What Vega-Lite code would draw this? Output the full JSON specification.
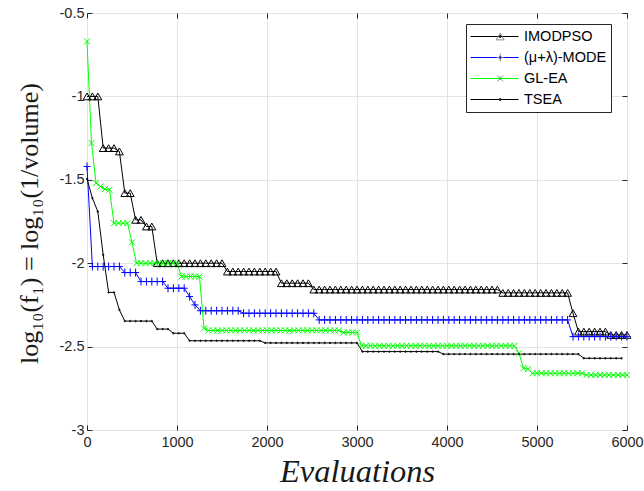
{
"$schema": "https://vega.github.io/schema/vega-lite/v6.json",
"width": 540, "height": 417,
"autosize": {"type": "none"},
"padding": {"left": 87, "top": 13, "right": 17, "bottom": 61},
"background": "white",
"config": {
  "view": {"stroke": "#262626", "strokeWidth": 1},
  "axis": {"labelFont": "Liberation Sans", "labelFontSize": 14.5, "labelColor": "#262626", "tickColor": "#262626", "domain": false, "gridColor": "#e3e3e3", "gridWidth": 1, "labelFlush": false}
},
"data": {"values": [
{"series":"IMODPSO","x":0,"y":-1},{"series":"IMODPSO","x":60,"y":-1},{"series":"IMODPSO","x":120,"y":-1},{"series":"IMODPSO","x":180,"y":-1.31},{"series":"IMODPSO","x":240,"y":-1.31},{"series":"IMODPSO","x":300,"y":-1.31},{"series":"IMODPSO","x":360,"y":-1.33},{"series":"IMODPSO","x":420,"y":-1.58},{"series":"IMODPSO","x":480,"y":-1.58},{"series":"IMODPSO","x":540,"y":-1.74},{"series":"IMODPSO","x":600,"y":-1.74},{"series":"IMODPSO","x":660,"y":-1.78},{"series":"IMODPSO","x":720,"y":-1.78},
{"series":"IMODPSO","x":780,"y":-2},{"series":"IMODPSO","x":840,"y":-2},{"series":"IMODPSO","x":900,"y":-2},{"series":"IMODPSO","x":960,"y":-2},{"series":"IMODPSO","x":1020,"y":-2},{"series":"IMODPSO","x":1080,"y":-2},{"series":"IMODPSO","x":1140,"y":-2},{"series":"IMODPSO","x":1200,"y":-2},{"series":"IMODPSO","x":1260,"y":-2},{"series":"IMODPSO","x":1320,"y":-2},{"series":"IMODPSO","x":1380,"y":-2},{"series":"IMODPSO","x":1440,"y":-2},{"series":"IMODPSO","x":1500,"y":-2},
{"series":"IMODPSO","x":1560,"y":-2.05},{"series":"IMODPSO","x":1620,"y":-2.05},{"series":"IMODPSO","x":1680,"y":-2.05},{"series":"IMODPSO","x":1740,"y":-2.05},{"series":"IMODPSO","x":1800,"y":-2.05},{"series":"IMODPSO","x":1860,"y":-2.05},{"series":"IMODPSO","x":1920,"y":-2.05},{"series":"IMODPSO","x":1980,"y":-2.05},{"series":"IMODPSO","x":2040,"y":-2.05},{"series":"IMODPSO","x":2100,"y":-2.05},
{"series":"IMODPSO","x":2160,"y":-2.12},{"series":"IMODPSO","x":2220,"y":-2.12},{"series":"IMODPSO","x":2280,"y":-2.12},{"series":"IMODPSO","x":2340,"y":-2.12},{"series":"IMODPSO","x":2400,"y":-2.12},{"series":"IMODPSO","x":2460,"y":-2.12},
{"series":"IMODPSO","x":2520,"y":-2.158},{"series":"IMODPSO","x":2580,"y":-2.158},{"series":"IMODPSO","x":2640,"y":-2.158},{"series":"IMODPSO","x":2700,"y":-2.158},{"series":"IMODPSO","x":2760,"y":-2.158},{"series":"IMODPSO","x":2820,"y":-2.158},{"series":"IMODPSO","x":2880,"y":-2.158},{"series":"IMODPSO","x":2940,"y":-2.158},{"series":"IMODPSO","x":3000,"y":-2.158},{"series":"IMODPSO","x":3060,"y":-2.158},{"series":"IMODPSO","x":3120,"y":-2.158},{"series":"IMODPSO","x":3180,"y":-2.158},{"series":"IMODPSO","x":3240,"y":-2.158},{"series":"IMODPSO","x":3300,"y":-2.158},{"series":"IMODPSO","x":3360,"y":-2.158},{"series":"IMODPSO","x":3420,"y":-2.158},{"series":"IMODPSO","x":3480,"y":-2.158},{"series":"IMODPSO","x":3540,"y":-2.158},{"series":"IMODPSO","x":3600,"y":-2.158},{"series":"IMODPSO","x":3660,"y":-2.158},{"series":"IMODPSO","x":3720,"y":-2.158},{"series":"IMODPSO","x":3780,"y":-2.158},{"series":"IMODPSO","x":3840,"y":-2.158},{"series":"IMODPSO","x":3900,"y":-2.158},{"series":"IMODPSO","x":3960,"y":-2.158},{"series":"IMODPSO","x":4020,"y":-2.158},{"series":"IMODPSO","x":4080,"y":-2.158},{"series":"IMODPSO","x":4140,"y":-2.158},{"series":"IMODPSO","x":4200,"y":-2.158},{"series":"IMODPSO","x":4260,"y":-2.158},{"series":"IMODPSO","x":4320,"y":-2.158},{"series":"IMODPSO","x":4380,"y":-2.158},{"series":"IMODPSO","x":4440,"y":-2.158},{"series":"IMODPSO","x":4500,"y":-2.158},{"series":"IMODPSO","x":4560,"y":-2.158},
{"series":"IMODPSO","x":4620,"y":-2.178},{"series":"IMODPSO","x":4680,"y":-2.178},{"series":"IMODPSO","x":4740,"y":-2.178},{"series":"IMODPSO","x":4800,"y":-2.178},{"series":"IMODPSO","x":4860,"y":-2.178},{"series":"IMODPSO","x":4920,"y":-2.178},{"series":"IMODPSO","x":4980,"y":-2.178},{"series":"IMODPSO","x":5040,"y":-2.178},{"series":"IMODPSO","x":5100,"y":-2.178},{"series":"IMODPSO","x":5160,"y":-2.178},{"series":"IMODPSO","x":5220,"y":-2.178},{"series":"IMODPSO","x":5280,"y":-2.178},{"series":"IMODPSO","x":5340,"y":-2.178},
{"series":"IMODPSO","x":5400,"y":-2.3},
{"series":"IMODPSO","x":5460,"y":-2.41},{"series":"IMODPSO","x":5520,"y":-2.41},{"series":"IMODPSO","x":5580,"y":-2.41},{"series":"IMODPSO","x":5640,"y":-2.41},{"series":"IMODPSO","x":5700,"y":-2.41},{"series":"IMODPSO","x":5760,"y":-2.41},
{"series":"IMODPSO","x":5820,"y":-2.43},{"series":"IMODPSO","x":5880,"y":-2.43},{"series":"IMODPSO","x":5940,"y":-2.43},{"series":"IMODPSO","x":6000,"y":-2.43},

{"series":"(μ+λ)-MODE","x":0,"y":-1.42},
{"series":"(μ+λ)-MODE","x":60,"y":-2.02},{"series":"(μ+λ)-MODE","x":120,"y":-2.02},{"series":"(μ+λ)-MODE","x":180,"y":-2.02},{"series":"(μ+λ)-MODE","x":240,"y":-2.02},{"series":"(μ+λ)-MODE","x":300,"y":-2.02},{"series":"(μ+λ)-MODE","x":360,"y":-2.02},
{"series":"(μ+λ)-MODE","x":420,"y":-2.056},{"series":"(μ+λ)-MODE","x":480,"y":-2.056},{"series":"(μ+λ)-MODE","x":540,"y":-2.056},
{"series":"(μ+λ)-MODE","x":600,"y":-2.11},{"series":"(μ+λ)-MODE","x":660,"y":-2.11},{"series":"(μ+λ)-MODE","x":720,"y":-2.11},{"series":"(μ+λ)-MODE","x":780,"y":-2.11},{"series":"(μ+λ)-MODE","x":840,"y":-2.11},
{"series":"(μ+λ)-MODE","x":900,"y":-2.15},{"series":"(μ+λ)-MODE","x":960,"y":-2.15},{"series":"(μ+λ)-MODE","x":1020,"y":-2.15},{"series":"(μ+λ)-MODE","x":1080,"y":-2.15},
{"series":"(μ+λ)-MODE","x":1140,"y":-2.2},{"series":"(μ+λ)-MODE","x":1200,"y":-2.25},
{"series":"(μ+λ)-MODE","x":1260,"y":-2.285},{"series":"(μ+λ)-MODE","x":1320,"y":-2.285},{"series":"(μ+λ)-MODE","x":1380,"y":-2.285},{"series":"(μ+λ)-MODE","x":1440,"y":-2.285},{"series":"(μ+λ)-MODE","x":1500,"y":-2.285},{"series":"(μ+λ)-MODE","x":1560,"y":-2.285},{"series":"(μ+λ)-MODE","x":1620,"y":-2.285},{"series":"(μ+λ)-MODE","x":1680,"y":-2.285},
{"series":"(μ+λ)-MODE","x":1740,"y":-2.3},{"series":"(μ+λ)-MODE","x":1800,"y":-2.3},{"series":"(μ+λ)-MODE","x":1860,"y":-2.3},{"series":"(μ+λ)-MODE","x":1920,"y":-2.3},{"series":"(μ+λ)-MODE","x":1980,"y":-2.3},{"series":"(μ+λ)-MODE","x":2040,"y":-2.3},{"series":"(μ+λ)-MODE","x":2100,"y":-2.3},{"series":"(μ+λ)-MODE","x":2160,"y":-2.3},{"series":"(μ+λ)-MODE","x":2220,"y":-2.3},{"series":"(μ+λ)-MODE","x":2280,"y":-2.3},{"series":"(μ+λ)-MODE","x":2340,"y":-2.3},{"series":"(μ+λ)-MODE","x":2400,"y":-2.3},{"series":"(μ+λ)-MODE","x":2460,"y":-2.3},{"series":"(μ+λ)-MODE","x":2520,"y":-2.3},
{"series":"(μ+λ)-MODE","x":2580,"y":-2.34},{"series":"(μ+λ)-MODE","x":2640,"y":-2.34},{"series":"(μ+λ)-MODE","x":2700,"y":-2.34},{"series":"(μ+λ)-MODE","x":2760,"y":-2.34},{"series":"(μ+λ)-MODE","x":2820,"y":-2.34},{"series":"(μ+λ)-MODE","x":2880,"y":-2.34},{"series":"(μ+λ)-MODE","x":2940,"y":-2.34},{"series":"(μ+λ)-MODE","x":3000,"y":-2.34},{"series":"(μ+λ)-MODE","x":3060,"y":-2.34},{"series":"(μ+λ)-MODE","x":3120,"y":-2.34},{"series":"(μ+λ)-MODE","x":3180,"y":-2.34},{"series":"(μ+λ)-MODE","x":3240,"y":-2.34},{"series":"(μ+λ)-MODE","x":3300,"y":-2.34},{"series":"(μ+λ)-MODE","x":3360,"y":-2.34},{"series":"(μ+λ)-MODE","x":3420,"y":-2.34},{"series":"(μ+λ)-MODE","x":3480,"y":-2.34},{"series":"(μ+λ)-MODE","x":3540,"y":-2.34},{"series":"(μ+λ)-MODE","x":3600,"y":-2.34},{"series":"(μ+λ)-MODE","x":3660,"y":-2.34},{"series":"(μ+λ)-MODE","x":3720,"y":-2.34},{"series":"(μ+λ)-MODE","x":3780,"y":-2.34},{"series":"(μ+λ)-MODE","x":3840,"y":-2.34},{"series":"(μ+λ)-MODE","x":3900,"y":-2.34},{"series":"(μ+λ)-MODE","x":3960,"y":-2.34},{"series":"(μ+λ)-MODE","x":4020,"y":-2.34},{"series":"(μ+λ)-MODE","x":4080,"y":-2.34},{"series":"(μ+λ)-MODE","x":4140,"y":-2.34},{"series":"(μ+λ)-MODE","x":4200,"y":-2.34},{"series":"(μ+λ)-MODE","x":4260,"y":-2.34},{"series":"(μ+λ)-MODE","x":4320,"y":-2.34},{"series":"(μ+λ)-MODE","x":4380,"y":-2.34},{"series":"(μ+λ)-MODE","x":4440,"y":-2.34},{"series":"(μ+λ)-MODE","x":4500,"y":-2.34},{"series":"(μ+λ)-MODE","x":4560,"y":-2.34},{"series":"(μ+λ)-MODE","x":4620,"y":-2.34},{"series":"(μ+λ)-MODE","x":4680,"y":-2.34},{"series":"(μ+λ)-MODE","x":4740,"y":-2.34},{"series":"(μ+λ)-MODE","x":4800,"y":-2.34},{"series":"(μ+λ)-MODE","x":4860,"y":-2.34},{"series":"(μ+λ)-MODE","x":4920,"y":-2.34},{"series":"(μ+λ)-MODE","x":4980,"y":-2.34},{"series":"(μ+λ)-MODE","x":5040,"y":-2.34},{"series":"(μ+λ)-MODE","x":5100,"y":-2.34},{"series":"(μ+λ)-MODE","x":5160,"y":-2.34},{"series":"(μ+λ)-MODE","x":5220,"y":-2.34},{"series":"(μ+λ)-MODE","x":5280,"y":-2.34},{"series":"(μ+λ)-MODE","x":5340,"y":-2.34},
{"series":"(μ+λ)-MODE","x":5400,"y":-2.44},{"series":"(μ+λ)-MODE","x":5460,"y":-2.44},{"series":"(μ+λ)-MODE","x":5520,"y":-2.44},{"series":"(μ+λ)-MODE","x":5580,"y":-2.44},{"series":"(μ+λ)-MODE","x":5640,"y":-2.44},{"series":"(μ+λ)-MODE","x":5700,"y":-2.44},{"series":"(μ+λ)-MODE","x":5760,"y":-2.44},{"series":"(μ+λ)-MODE","x":5820,"y":-2.44},{"series":"(μ+λ)-MODE","x":5880,"y":-2.44},{"series":"(μ+λ)-MODE","x":5940,"y":-2.44},{"series":"(μ+λ)-MODE","x":6000,"y":-2.44},

{"series":"GL-EA","x":0,"y":-0.67},{"series":"GL-EA","x":50,"y":-1.28},{"series":"GL-EA","x":100,"y":-1.52},{"series":"GL-EA","x":150,"y":-1.54},{"series":"GL-EA","x":200,"y":-1.555},{"series":"GL-EA","x":250,"y":-1.56},
{"series":"GL-EA","x":300,"y":-1.76},{"series":"GL-EA","x":350,"y":-1.76},{"series":"GL-EA","x":400,"y":-1.76},{"series":"GL-EA","x":450,"y":-1.76},{"series":"GL-EA","x":500,"y":-1.875},
{"series":"GL-EA","x":550,"y":-2},{"series":"GL-EA","x":600,"y":-2},{"series":"GL-EA","x":650,"y":-2},{"series":"GL-EA","x":700,"y":-2},{"series":"GL-EA","x":750,"y":-2},{"series":"GL-EA","x":800,"y":-2},{"series":"GL-EA","x":850,"y":-2},{"series":"GL-EA","x":900,"y":-2},{"series":"GL-EA","x":950,"y":-2},{"series":"GL-EA","x":1000,"y":-2},
{"series":"GL-EA","x":1050,"y":-2.08},{"series":"GL-EA","x":1100,"y":-2.08},{"series":"GL-EA","x":1150,"y":-2.08},{"series":"GL-EA","x":1200,"y":-2.08},{"series":"GL-EA","x":1250,"y":-2.08},
{"series":"GL-EA","x":1300,"y":-2.39},
{"series":"GL-EA","x":1350,"y":-2.403},{"series":"GL-EA","x":1400,"y":-2.403},{"series":"GL-EA","x":1450,"y":-2.403},{"series":"GL-EA","x":1500,"y":-2.403},{"series":"GL-EA","x":1550,"y":-2.403},{"series":"GL-EA","x":1600,"y":-2.403},{"series":"GL-EA","x":1650,"y":-2.403},{"series":"GL-EA","x":1700,"y":-2.403},{"series":"GL-EA","x":1750,"y":-2.403},{"series":"GL-EA","x":1800,"y":-2.403},{"series":"GL-EA","x":1850,"y":-2.403},{"series":"GL-EA","x":1900,"y":-2.403},{"series":"GL-EA","x":1950,"y":-2.403},{"series":"GL-EA","x":2000,"y":-2.403},{"series":"GL-EA","x":2050,"y":-2.403},{"series":"GL-EA","x":2100,"y":-2.403},{"series":"GL-EA","x":2150,"y":-2.403},{"series":"GL-EA","x":2200,"y":-2.403},{"series":"GL-EA","x":2250,"y":-2.403},{"series":"GL-EA","x":2300,"y":-2.403},{"series":"GL-EA","x":2350,"y":-2.403},{"series":"GL-EA","x":2400,"y":-2.403},{"series":"GL-EA","x":2450,"y":-2.403},{"series":"GL-EA","x":2500,"y":-2.403},{"series":"GL-EA","x":2550,"y":-2.403},{"series":"GL-EA","x":2600,"y":-2.403},{"series":"GL-EA","x":2650,"y":-2.403},{"series":"GL-EA","x":2700,"y":-2.403},{"series":"GL-EA","x":2750,"y":-2.403},{"series":"GL-EA","x":2800,"y":-2.403},
{"series":"GL-EA","x":2850,"y":-2.415},{"series":"GL-EA","x":2900,"y":-2.415},{"series":"GL-EA","x":2950,"y":-2.415},{"series":"GL-EA","x":3000,"y":-2.415},
{"series":"GL-EA","x":3050,"y":-2.495},{"series":"GL-EA","x":3100,"y":-2.495},{"series":"GL-EA","x":3150,"y":-2.495},{"series":"GL-EA","x":3200,"y":-2.495},{"series":"GL-EA","x":3250,"y":-2.495},{"series":"GL-EA","x":3300,"y":-2.495},{"series":"GL-EA","x":3350,"y":-2.495},{"series":"GL-EA","x":3400,"y":-2.495},{"series":"GL-EA","x":3450,"y":-2.495},{"series":"GL-EA","x":3500,"y":-2.495},{"series":"GL-EA","x":3550,"y":-2.495},{"series":"GL-EA","x":3600,"y":-2.495},{"series":"GL-EA","x":3650,"y":-2.495},{"series":"GL-EA","x":3700,"y":-2.495},{"series":"GL-EA","x":3750,"y":-2.495},{"series":"GL-EA","x":3800,"y":-2.495},{"series":"GL-EA","x":3850,"y":-2.495},{"series":"GL-EA","x":3900,"y":-2.495},{"series":"GL-EA","x":3950,"y":-2.495},{"series":"GL-EA","x":4000,"y":-2.495},{"series":"GL-EA","x":4050,"y":-2.495},{"series":"GL-EA","x":4100,"y":-2.495},{"series":"GL-EA","x":4150,"y":-2.495},{"series":"GL-EA","x":4200,"y":-2.495},{"series":"GL-EA","x":4250,"y":-2.495},{"series":"GL-EA","x":4300,"y":-2.495},{"series":"GL-EA","x":4350,"y":-2.495},{"series":"GL-EA","x":4400,"y":-2.495},{"series":"GL-EA","x":4450,"y":-2.495},{"series":"GL-EA","x":4500,"y":-2.495},{"series":"GL-EA","x":4550,"y":-2.495},{"series":"GL-EA","x":4600,"y":-2.495},{"series":"GL-EA","x":4650,"y":-2.495},{"series":"GL-EA","x":4700,"y":-2.495},{"series":"GL-EA","x":4750,"y":-2.495},
{"series":"GL-EA","x":4800,"y":-2.54},{"series":"GL-EA","x":4850,"y":-2.63},{"series":"GL-EA","x":4900,"y":-2.635},
{"series":"GL-EA","x":4950,"y":-2.66},{"series":"GL-EA","x":5000,"y":-2.66},{"series":"GL-EA","x":5050,"y":-2.66},{"series":"GL-EA","x":5100,"y":-2.66},{"series":"GL-EA","x":5150,"y":-2.66},{"series":"GL-EA","x":5200,"y":-2.66},{"series":"GL-EA","x":5250,"y":-2.66},{"series":"GL-EA","x":5300,"y":-2.66},{"series":"GL-EA","x":5350,"y":-2.66},{"series":"GL-EA","x":5400,"y":-2.66},{"series":"GL-EA","x":5450,"y":-2.66},{"series":"GL-EA","x":5500,"y":-2.66},
{"series":"GL-EA","x":5550,"y":-2.67},{"series":"GL-EA","x":5600,"y":-2.67},{"series":"GL-EA","x":5650,"y":-2.67},{"series":"GL-EA","x":5700,"y":-2.67},{"series":"GL-EA","x":5750,"y":-2.67},{"series":"GL-EA","x":5800,"y":-2.67},{"series":"GL-EA","x":5850,"y":-2.67},{"series":"GL-EA","x":5900,"y":-2.67},{"series":"GL-EA","x":5950,"y":-2.67},{"series":"GL-EA","x":6000,"y":-2.67},

{"series":"TSEA","x":0,"y":-1.495},{"series":"TSEA","x":60,"y":-1.61},{"series":"TSEA","x":120,"y":-1.69},{"series":"TSEA","x":180,"y":-1.95},{"series":"TSEA","x":240,"y":-2.175},{"series":"TSEA","x":300,"y":-2.175},{"series":"TSEA","x":360,"y":-2.28},
{"series":"TSEA","x":420,"y":-2.347},{"series":"TSEA","x":480,"y":-2.347},{"series":"TSEA","x":540,"y":-2.347},{"series":"TSEA","x":600,"y":-2.347},{"series":"TSEA","x":660,"y":-2.347},{"series":"TSEA","x":720,"y":-2.347},
{"series":"TSEA","x":780,"y":-2.395},{"series":"TSEA","x":840,"y":-2.395},{"series":"TSEA","x":900,"y":-2.395},
{"series":"TSEA","x":960,"y":-2.42},{"series":"TSEA","x":1020,"y":-2.42},{"series":"TSEA","x":1080,"y":-2.42},
{"series":"TSEA","x":1140,"y":-2.465},{"series":"TSEA","x":1200,"y":-2.465},{"series":"TSEA","x":1260,"y":-2.465},{"series":"TSEA","x":1320,"y":-2.465},{"series":"TSEA","x":1380,"y":-2.465},{"series":"TSEA","x":1440,"y":-2.465},{"series":"TSEA","x":1500,"y":-2.465},{"series":"TSEA","x":1560,"y":-2.465},{"series":"TSEA","x":1620,"y":-2.465},{"series":"TSEA","x":1680,"y":-2.465},{"series":"TSEA","x":1740,"y":-2.465},{"series":"TSEA","x":1800,"y":-2.465},{"series":"TSEA","x":1860,"y":-2.465},{"series":"TSEA","x":1920,"y":-2.465},
{"series":"TSEA","x":1980,"y":-2.478},{"series":"TSEA","x":2040,"y":-2.478},{"series":"TSEA","x":2100,"y":-2.478},{"series":"TSEA","x":2160,"y":-2.478},{"series":"TSEA","x":2220,"y":-2.478},{"series":"TSEA","x":2280,"y":-2.478},{"series":"TSEA","x":2340,"y":-2.478},{"series":"TSEA","x":2400,"y":-2.478},{"series":"TSEA","x":2460,"y":-2.478},{"series":"TSEA","x":2520,"y":-2.478},{"series":"TSEA","x":2580,"y":-2.478},{"series":"TSEA","x":2640,"y":-2.478},{"series":"TSEA","x":2700,"y":-2.478},{"series":"TSEA","x":2760,"y":-2.478},{"series":"TSEA","x":2820,"y":-2.478},{"series":"TSEA","x":2880,"y":-2.478},{"series":"TSEA","x":2940,"y":-2.478},{"series":"TSEA","x":3000,"y":-2.478},
{"series":"TSEA","x":3060,"y":-2.53},{"series":"TSEA","x":3120,"y":-2.53},{"series":"TSEA","x":3180,"y":-2.53},{"series":"TSEA","x":3240,"y":-2.53},{"series":"TSEA","x":3300,"y":-2.53},{"series":"TSEA","x":3360,"y":-2.53},{"series":"TSEA","x":3420,"y":-2.53},{"series":"TSEA","x":3480,"y":-2.53},{"series":"TSEA","x":3540,"y":-2.53},{"series":"TSEA","x":3600,"y":-2.53},{"series":"TSEA","x":3660,"y":-2.53},{"series":"TSEA","x":3720,"y":-2.53},{"series":"TSEA","x":3780,"y":-2.53},{"series":"TSEA","x":3840,"y":-2.53},{"series":"TSEA","x":3900,"y":-2.53},
{"series":"TSEA","x":3960,"y":-2.545},{"series":"TSEA","x":4020,"y":-2.545},{"series":"TSEA","x":4080,"y":-2.545},{"series":"TSEA","x":4140,"y":-2.545},{"series":"TSEA","x":4200,"y":-2.545},{"series":"TSEA","x":4260,"y":-2.545},{"series":"TSEA","x":4320,"y":-2.545},{"series":"TSEA","x":4380,"y":-2.545},{"series":"TSEA","x":4440,"y":-2.545},{"series":"TSEA","x":4500,"y":-2.545},{"series":"TSEA","x":4560,"y":-2.545},{"series":"TSEA","x":4620,"y":-2.545},{"series":"TSEA","x":4680,"y":-2.545},{"series":"TSEA","x":4740,"y":-2.545},{"series":"TSEA","x":4800,"y":-2.545},{"series":"TSEA","x":4860,"y":-2.545},{"series":"TSEA","x":4920,"y":-2.545},{"series":"TSEA","x":4980,"y":-2.545},{"series":"TSEA","x":5040,"y":-2.545},{"series":"TSEA","x":5100,"y":-2.545},{"series":"TSEA","x":5160,"y":-2.545},{"series":"TSEA","x":5220,"y":-2.545},{"series":"TSEA","x":5280,"y":-2.545},{"series":"TSEA","x":5340,"y":-2.545},{"series":"TSEA","x":5400,"y":-2.545},{"series":"TSEA","x":5460,"y":-2.545},
{"series":"TSEA","x":5520,"y":-2.57},{"series":"TSEA","x":5580,"y":-2.57},{"series":"TSEA","x":5640,"y":-2.57},{"series":"TSEA","x":5700,"y":-2.57},{"series":"TSEA","x":5760,"y":-2.57},{"series":"TSEA","x":5820,"y":-2.57},{"series":"TSEA","x":5880,"y":-2.57},{"series":"TSEA","x":5940,"y":-2.57}
]},
"layer": [
  {
    "mark": {"type": "line", "strokeWidth": 1},
    "encoding": {
      "x": {"field": "x", "type": "quantitative", "scale": {"domain": [0, 6000], "nice": false, "zero": false},
        "axis": {"orient": "bottom", "values": [0,1000,2000,3000,4000,5000,6000], "format": "d", "grid": true, "tickSize": -5, "labelPadding": 10,
          "title": "Evaluations", "titleFont": "Liberation Serif", "titleFontStyle": "italic", "titleFontWeight": "normal", "titleFontSize": 32.5, "titleColor": "#1a1a1a",
          "titleX": 270, "titleY": 51, "titleBaseline": "alphabetic", "titleAlign": "center"}},
      "y": {"field": "y", "type": "quantitative", "scale": {"domain": [-3, -0.5], "nice": false, "zero": false},
        "axis": {"orient": "left", "values": [-3,-2.5,-2,-1.5,-1,-0.5], "labelExpr": "'-' + format(-datum.value, '.1~f')", "grid": true, "tickSize": -5, "labelPadding": 8,
          "title": "log₁₀(f₁) = log₁₀(1/volume)", "titleFont": "Liberation Serif", "titleFontWeight": "normal", "titleFontSize": 26, "titleColor": "#1a1a1a",
          "titleX": -50, "titleY": 210, "titleAngle": 270, "titleBaseline": "alphabetic", "titleAlign": "center"}},
      "color": {"field": "series", "type": "nominal",
        "scale": {"domain": ["IMODPSO", "(μ+λ)-MODE", "GL-EA", "TSEA"], "range": ["#000000", "#0000ff", "#00ff00", "#000000"]},
        "legend": {"orient": "none", "legendX": 379, "legendY": 11, "title": null, "symbolType": "stroke", "symbolSize": 2304, "symbolStrokeWidth": 1,
          "labelFont": "Liberation Sans", "labelFontSize": 14.5, "labelColor": "#000000", "labelOffset": 5, "labelLimit": 300,
          "labelExpr": "datum.label + '\u00a0\u00a0\u00a0\u00a0\u00a0'",
          "padding": 4, "rowPadding": 4, "clipHeight": 17, "strokeColor": "#262626", "fillColor": "#ffffff", "zindex": 1}
      }
    }
  },
  {
    "mark": {"type": "point", "filled": false, "size": 4, "strokeWidth": 1, "opacity": 1},
    "encoding": {
      "x": {"field": "x", "type": "quantitative", "scale": {"domain": [0, 6000], "nice": false, "zero": false},
        "axis": {"orient": "top", "values": [0,1000,2000,3000,4000,5000,6000], "labels": false, "grid": false, "tickSize": -5, "title": null}},
      "y": {"field": "y", "type": "quantitative", "scale": {"domain": [-3, -0.5], "nice": false, "zero": false},
        "axis": {"orient": "right", "values": [-3,-2.5,-2,-1.5,-1,-0.5], "labels": false, "grid": false, "tickSize": -5, "title": null}},
      "stroke": {"field": "series", "type": "nominal", "sort": ["IMODPSO", "(μ+λ)-MODE", "GL-EA", "TSEA"],
        "scale": {"range": ["#000000", "#0000ff", "#00ff00", "#000000"]},
        "legend": {"orient": "none", "legendX": 379, "legendY": 11, "title": null, "symbolSize": 4, "symbolStrokeWidth": 1, "symbolOffset": 23,
          "labelFontSize": 14.5, "labelExpr": "''", "padding": 4, "rowPadding": 4, "clipHeight": 17, "zindex": 2}},
      "shape": {"field": "series", "type": "nominal", "sort": ["IMODPSO", "(μ+λ)-MODE", "GL-EA", "TSEA"],
        "scale": {"range": ["M0,-3.4L-3.9,3.4L3.9,3.4Z", "M-3.5,0L3.5,0M0,-4L0,4", "M-3,-3L3,3M-3,3L3,-3", "M-0.75,0A0.75,0.75,0,1,1,0.75,0A0.75,0.75,0,1,1,-0.75,0Z"]},
        "legend": {"orient": "none", "legendX": 379, "legendY": 11, "title": null, "symbolSize": 4, "symbolStrokeWidth": 1, "symbolOffset": 23,
          "labelFontSize": 14.5, "labelExpr": "''", "padding": 4, "rowPadding": 4, "clipHeight": 17, "zindex": 2}}
    }
  }
],
"resolve": {"axis": {"x": "independent", "y": "independent"}}
}
